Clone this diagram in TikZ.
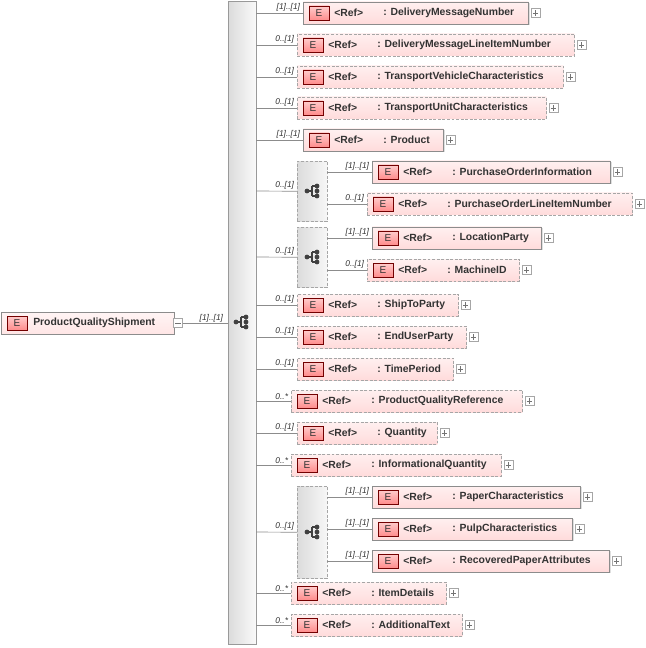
\documentclass[tikz,border=0pt]{standalone}
\usepackage{fontspec}
\setmainfont{Liberation Sans}
\usetikzlibrary{shadows}
\begin{document}
\begin{tikzpicture}[x=0.75pt,y=-0.75pt,
  box/.style={draw=#1,line width=0.6pt,top color=red!6,bottom color=red!14,inner sep=0pt,minimum height=16.5pt,anchor=west},
  box/.default={black!45},
  opt/.style={box=black!35,dash pattern=on 2.2pt off 1.2pt},
  req/.style={box=black!45,drop shadow={shadow xshift=1pt,shadow yshift=-1pt,opacity=0.25}},
  badge/.style={draw=red!45!black,line width=0.5pt,top color=red!20,bottom color=red!45,minimum width=15pt,minimum height=10.5pt,inner sep=0pt,font=\fontsize{7.5}{8}\selectfont,text=black!80},
  nm/.style={font=\bfseries\fontsize{7.8}{9}\selectfont,text=black!80,inner sep=0pt,anchor=west},
  mult/.style={font=\itshape\fontsize{6.3}{7}\selectfont,text=black!80,inner sep=0.5pt,anchor=south east},
  conn/.style={draw=black!45,line width=0.5pt},
  plus/.style={draw=black!35,fill=white,line width=0.4pt,minimum size=6.5pt,inner sep=0pt},
  grp/.style={draw=black!35,dash pattern=on 2.2pt off 1.2pt,left color=black!14,right color=black!3,inner sep=0pt,minimum width=22.5pt,anchor=north west}]
\useasboundingbox (0,0) rectangle (645,648);
\newcommand\myicon[2]{%
  \draw[black!75,line width=0.8pt] (#1-6,#2)--(#1-1,#2) (#1-1,#2-5)--(#1-1,#2+5) (#1-1,#2-5)--(#1+4,#2-5) (#1-1,#2+5)--(#1+4,#2+5);
  \fill[black!75] (#1-6,#2) circle[radius=1.8pt] (#1+4,#2-5) circle[radius=1.8pt] (#1+4,#2) circle[radius=1.8pt] (#1+4,#2+5) circle[radius=1.8pt];}
\newcommand\myel[8]{% name x1 x2 y text style mult srcx
  \pgfmathsetmacro\w{(#3-#2)*0.75}
  \node[#6,minimum width=\w pt] (#1) at (#2,#4) {};
  \node[badge] (#1b) at (#2+16,#4) {E};
  \node[nm] (#1r) at (#2+31,#4) {<Ref>};
  \node[nm] (#1t) at (#2+80,#4) {: #5};
  \node[plus] (#1p) at (#3+7.5,#4) {};
  \draw[black!55,line width=0.4pt] ([xshift=-2pt]#1p.center)--([xshift=2pt]#1p.center) ([yshift=-2pt]#1p.center)--([yshift=2pt]#1p.center);
  \coordinate (#1s) at (#8,#4);
  \draw[conn] (#1s)--(#1.west);
  \node[mult] at ([xshift=-1.5pt,yshift=0.5pt]#1.west) {#7};}
% sequence bar
\node[draw=black!40,left color=black!14,right color=black!2,inner sep=0pt,minimum width=21pt,minimum height=482pt,anchor=north west] (seq) at (228,1) {};
\myicon{242}{322}
% main element
\node[box=black!45,minimum width=129.75pt,top color=red!4,bottom color=red!10] (main) at (1,323) {};
\node[badge] (mainb) at (17,323) {E};
\node[nm] (maint) at (33,323) {ProductQualityShipment};
\node[plus] (mainp) at (178,323) {};
\draw[black!55,line width=0.4pt] ([xshift=-2pt]mainp.center)--([xshift=2pt]mainp.center);
\coordinate (seqin) at (228,323);
\draw[conn] (mainp.east)--(seqin);
\node[mult] at (224,323.5) {[1]..[1]};
% children
\myel{a}{303}{528}{13}{DeliveryMessageNumber}{req}{[1]..[1]}{256}
\myel{b}{297}{574}{45}{DeliveryMessageLineItemNumber}{opt}{0..[1]}{256}
\myel{c}{297}{563}{77}{TransportVehicleCharacteristics}{opt}{0..[1]}{256}
\myel{d}{297}{546}{108}{TransportUnitCharacteristics}{opt}{0..[1]}{256}
\myel{e}{303}{443}{140}{Product}{req}{[1]..[1]}{256}
% choice group 1
\node[grp,minimum height=45pt] (g1) at (297,161) {};
\myicon{313}{191}
\coordinate (g1s) at (256,191);
\draw[conn] (g1s)--(g1.west);
\node[mult] at ([xshift=-1.5pt,yshift=0.5pt]g1.west) {0..[1]};
\myel{f}{372}{610}{172}{PurchaseOrderInformation}{req}{[1]..[1]}{327}
\myel{g}{367}{632}{204}{PurchaseOrderLineItemNumber}{opt}{0..[1]}{327}
% choice group 2
\node[grp,minimum height=45pt] (g2) at (297,227) {};
\myicon{313}{257}
\coordinate (g2s) at (256,257);
\draw[conn] (g2s)--(g2.west);
\node[mult] at ([xshift=-1.5pt,yshift=0.5pt]g2.west) {0..[1]};
\myel{h}{372}{541}{238}{LocationParty}{req}{[1]..[1]}{327}
\myel{i}{367}{519}{270}{MachineID}{opt}{0..[1]}{327}
\myel{j}{297}{458}{305}{ShipToParty}{opt}{0..[1]}{256}
\myel{k}{297}{466}{337}{EndUserParty}{opt}{0..[1]}{256}
\myel{l}{297}{453}{369}{TimePeriod}{opt}{0..[1]}{256}
\myel{m}{291}{522}{401}{ProductQualityReference}{opt}{0..*}{256}
\myel{n}{297}{437}{433}{Quantity}{opt}{0..[1]}{256}
\myel{o}{291}{501}{465}{InformationalQuantity}{opt}{0..*}{256}
% sequence group
\node[grp,minimum height=69pt] (g3) at (297,486) {};
\myicon{313}{532}
\coordinate (g3s) at (256,532);
\draw[conn] (g3s)--(g3.west);
\node[mult] at ([xshift=-1.5pt,yshift=0.5pt]g3.west) {0..[1]};
\myel{p}{372}{580}{497}{PaperCharacteristics}{req}{[1]..[1]}{327}
\myel{q}{372}{572}{529}{PulpCharacteristics}{req}{[1]..[1]}{327}
\myel{r}{372}{609}{561}{RecoveredPaperAttributes}{req}{[1]..[1]}{327}
\myel{s}{291}{446}{593}{ItemDetails}{opt}{0..*}{256}
\myel{t}{291}{462}{625}{AdditionalText}{opt}{0..*}{256}
\end{tikzpicture}
\end{document}
